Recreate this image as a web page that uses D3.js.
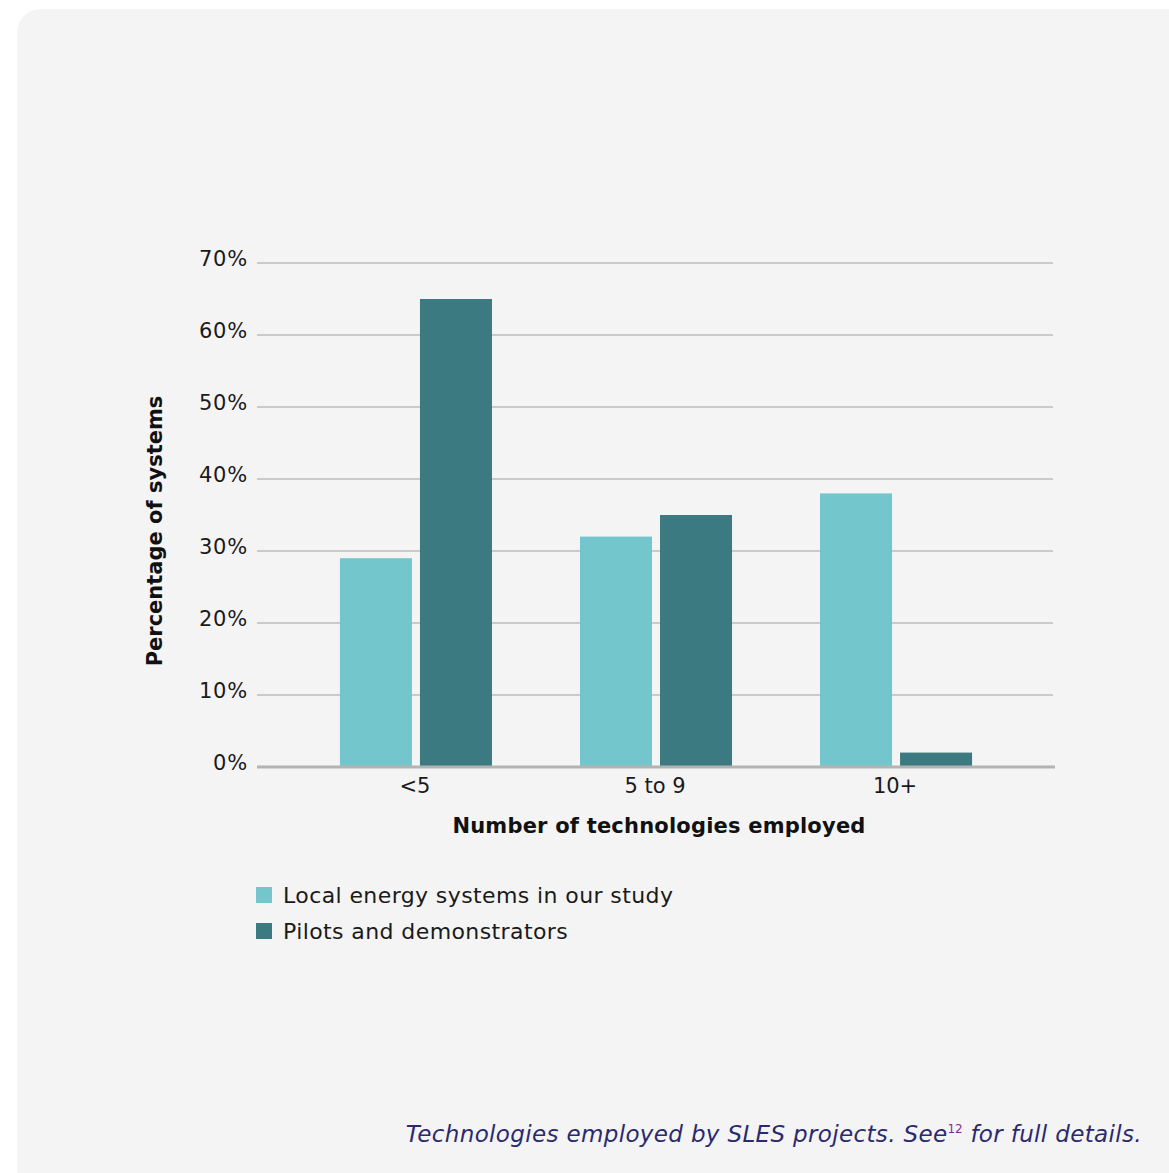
<!DOCTYPE html>
<html>
<head>
<meta charset="utf-8">
<script src="https://cdn.jsdelivr.net/npm/d3@7"></script>
<style>
  html, body { margin: 0; padding: 0; background: #ffffff; }
  svg { display: block; }
  text { font-family: "DejaVu Sans", "Noto Sans", sans-serif; }
</style>
</head>
<body>
<svg id="chart" width="1169" height="1173"></svg>
<script>
// Share of systems by number of technologies employed
const categories = ["<5", "5 to 9", "10+"];
const seriesNames = ["Local energy systems in our study", "Pilots and demonstrators"];
const localSystems = [29, 32, 38];
const pilotsDemonstrators = [65, 35, 2];
const yTicks = [0, 10, 20, 30, 40, 50, 60, 70];

const colors = ["#72c6cc", "#3b7a80"];
const series = [localSystems, pilotsDemonstrators];

const svg = d3.select("#chart");

// Card background
svg.append("rect")
  .attr("x", 17).attr("y", 9)
  .attr("width", 1200).attr("height", 1200)
  .attr("rx", 24).attr("ry", 24)
  .attr("fill", "#f4f4f4");

const plot = { left: 257, right: 1053, top: 263, bottom: 767 };

const y = d3.scaleLinear().domain([0, 70]).range([plot.bottom, plot.top]);
const x0 = d3.scaleBand().domain(categories)
  .range([plot.left, plot.right]).paddingInner(0).paddingOuter(0.158);
const x1 = d3.scaleBand().domain(d3.range(series.length))
  .range([1, x0.bandwidth() + 1]).paddingInner(0.1).paddingOuter(0.55);

// Gridlines and y tick labels
svg.append("g").selectAll("line").data(yTicks.filter(t => t > 0)).join("line")
  .attr("x1", plot.left).attr("x2", plot.right)
  .attr("y1", d => y(d)).attr("y2", d => y(d))
  .attr("stroke", "#bdbdbd").attr("stroke-width", 1.5);

svg.append("g").selectAll("text").data(yTicks).join("text")
  .attr("x", 248).attr("y", d => y(d) + 3)
  .attr("text-anchor", "end")
  .attr("font-size", 21).attr("letter-spacing", 0.8).attr("fill", "#1a1a1a")
  .text(d => d + "%");

// Bars
const groups = svg.append("g").selectAll("g").data(categories).join("g")
  .attr("transform", d => `translate(${x0(d)},0)`);
groups.selectAll("rect")
  .data((d, i) => series.map((s, k) => ({ k, v: s[i] })))
  .join("rect")
  .attr("x", d => x1(d.k))
  .attr("width", x1.bandwidth())
  .attr("y", d => y(d.v))
  .attr("height", d => y(0) - y(d.v))
  .attr("fill", d => colors[d.k]);

// Baseline
svg.append("line")
  .attr("x1", plot.left).attr("x2", plot.right + 2)
  .attr("y1", y(0)).attr("y2", y(0))
  .attr("stroke", "#b3b3b3").attr("stroke-width", 3);

// Category labels
svg.append("g").selectAll("text").data(categories).join("text")
  .attr("x", d => x0(d) + x0.bandwidth() / 2)
  .attr("y", 793)
  .attr("text-anchor", "middle")
  .attr("font-size", 21).attr("fill", "#1a1a1a")
  .text(d => d);

// Axis titles
svg.append("text")
  .attr("x", 659).attr("y", 833)
  .attr("text-anchor", "middle")
  .attr("font-size", 21).attr("letter-spacing", 0.2)
  .attr("font-weight", 700).attr("fill", "#111")
  .text("Number of technologies employed");

svg.append("text")
  .attr("transform", "translate(162,531) rotate(-90)")
  .attr("text-anchor", "middle")
  .attr("font-size", 21).attr("font-weight", 700).attr("fill", "#111")
  .text("Percentage of systems");

// Legend
const legend = svg.append("g").selectAll("g").data(seriesNames).join("g")
  .attr("transform", (d, i) => `translate(256,${887 + i * 36})`);
legend.append("rect").attr("width", 16).attr("height", 16)
  .attr("fill", (d, i) => colors[i]);
legend.append("text").attr("x", 27).attr("y", 16)
  .attr("font-size", 22).attr("letter-spacing", 0.4).attr("fill", "#1a1a1a")
  .text(d => d);

// Caption
const cap = svg.append("text")
  .attr("x", 1142).attr("y", 1142)
  .attr("text-anchor", "end")
  .attr("font-size", 23).attr("letter-spacing", 0.35)
  .attr("font-style", "italic").attr("fill", "#2b2a6e");
cap.append("tspan").text("Technologies employed by SLES projects. See");
cap.append("tspan").attr("dy", -9).attr("font-size", 12).attr("font-style", "normal")
  .attr("letter-spacing", 0).attr("fill", "#8a2b8f").text("12");
cap.append("tspan").attr("dy", 9).text(" for full details.");
</script>
</body>
</html>
